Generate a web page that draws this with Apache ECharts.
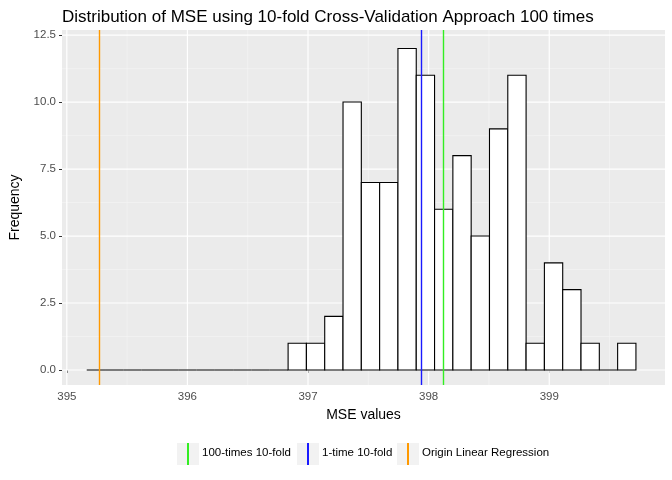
<!DOCTYPE html>
<html><head><meta charset="utf-8">
<script src="https://cdn.jsdelivr.net/npm/echarts@6/dist/echarts.min.js"></script>
<style>html,body{margin:0;padding:0;background:#fff}#c{width:672px;height:480px}</style>
</head><body><div id="c"></div>
<script>
const binStart = 395.165
const binWidth = 0.1518
const counts = [0,0,0,0,0,0,0,0,0,0,0, 1,1,2,10,7,7,12,11,6,8,5,9,11,1,4,3,1,0,1]
const refLines = [
  { name: '100-times 10-fold', value: 398.12, color: '#33ee22' },
  { name: '1-time 10-fold', value: 397.94, color: '#1a1aff' },
  { name: 'Origin Linear Regression', value: 395.27, color: '#ff9900' }
]
const yTicks = [0, 2.5, 5, 7.5, 10, 12.5]
const xTicks = [395, 396, 397, 398, 399]

const bins = counts.map((c, i) => [binStart + i * binWidth, binStart + (i + 1) * binWidth, c])

const chart = echarts.init(document.getElementById('c'))
const font = 'Liberation Sans, Arial, sans-serif'
const legendX = [[177, 202], [297, 322], [397, 422]]

chart.setOption({
  animation: false,
  title: {
    text: 'Distribution of MSE using 10-fold Cross-Validation Approach 100 times',
    left: 57, top: 4,
    textStyle: { fontFamily: font, fontSize: 17, fontWeight: 'normal', color: '#000' }
  },
  grid: { left: 60, right: 7, top: 30, bottom: 95, backgroundColor: '#ebebeb', show: true, borderWidth: 0 },
  xAxis: {
    type: 'value', min: 394.96, max: 399.96,
    name: 'MSE values', nameLocation: 'middle', nameGap: 23,
    nameTextStyle: { fontFamily: font, fontSize: 14, color: '#000' },
    axisLine: { show: false },
    axisTick: { show: true, customValues: xTicks, length: 3, lineStyle: { color: '#333' } },
    axisLabel: { customValues: xTicks, fontFamily: font, fontSize: 11.5, color: '#4d4d4d', margin: 6 },
    splitLine: { show: false }
  },
  yAxis: {
    type: 'value', min: -0.56, max: 12.69,
    name: 'Frequency', nameLocation: 'middle', nameGap: 40,
    nameTextStyle: { fontFamily: font, fontSize: 14, color: '#000' },
    axisLine: { show: false },
    axisTick: { show: true, customValues: yTicks, length: 3, lineStyle: { color: '#333' } },
    axisLabel: { customValues: yTicks, fontFamily: font, fontSize: 11.5, color: '#4d4d4d', margin: 6,
      formatter: v => v.toFixed(1) },
    splitLine: { show: false }
  },
  series: [
    {
      type: 'custom', silent: true, z: 1,
      data: [0],
      renderItem: (params, api) => {
        const ch = []
        const x0 = api.coord([394.96, 0])[0], x1 = api.coord([399.96, 0])[0]
        const yTop = api.coord([0, 12.69])[1], yBot = api.coord([0, -0.56])[1]
        for (let v = 395.5; v < 399.96; v += 1) {
          const x = api.coord([v, 0])[0]
          ch.push({ type: 'line', shape: { x1: x, y1: yTop, x2: x, y2: yBot }, style: { stroke: '#f5f5f5', lineWidth: 0.6 } })
        }
        for (let v = 1.25; v < 12.69; v += 2.5) {
          const y = api.coord([395, v])[1]
          ch.push({ type: 'line', shape: { x1: x0, y1: y, x2: x1, y2: y }, style: { stroke: '#f5f5f5', lineWidth: 0.6 } })
        }
        xTicks.forEach(v => {
          const x = api.coord([v, 0])[0]
          ch.push({ type: 'line', shape: { x1: x, y1: yTop, x2: x, y2: yBot }, style: { stroke: '#fff', lineWidth: 1.2 } })
        })
        yTicks.forEach(v => {
          const y = api.coord([395, v])[1]
          ch.push({ type: 'line', shape: { x1: x0, y1: y, x2: x1, y2: y }, style: { stroke: '#fff', lineWidth: 1.2 } })
        })
        return { type: 'group', children: ch }
      }
    },
    {
      type: 'custom', z: 2,
      data: bins,
      encode: { x: [0, 1], y: 2 },
      renderItem: (params, api) => {
        const p0 = api.coord([api.value(0), 0])
        const p1 = api.coord([api.value(1), api.value(2)])
        return {
          type: 'rect',
          shape: { x: p0[0], y: p1[1], width: p1[0] - p0[0], height: p0[1] - p1[1] },
          style: { fill: '#fff', stroke: '#000', lineWidth: 1.1 }
        }
      }
    },
    ...refLines.map(r => ({
      type: 'line', name: r.name, data: [], z: 3,
      markLine: {
        symbol: 'none', silent: true, label: { show: false },
        lineStyle: { color: r.color, type: 'solid', width: 1.4, opacity: 1 },
        emphasis: { disabled: true },
        data: [{ xAxis: r.value }]
      }
    }))
  ],
  graphic: refLines.flatMap((r, i) => [
    { type: 'rect', left: legendX[i][0], top: 443, shape: { width: 22, height: 22 }, style: { fill: '#f2f2f2' } },
    { type: 'rect', left: legendX[i][0] + 10, top: 443, shape: { width: 2, height: 22 }, style: { fill: r.color } },
    { type: 'text', left: legendX[i][1], top: 447, style: { text: r.name, font: '11.5px ' + font, fill: '#000' } }
  ])
})
</script></body></html>
